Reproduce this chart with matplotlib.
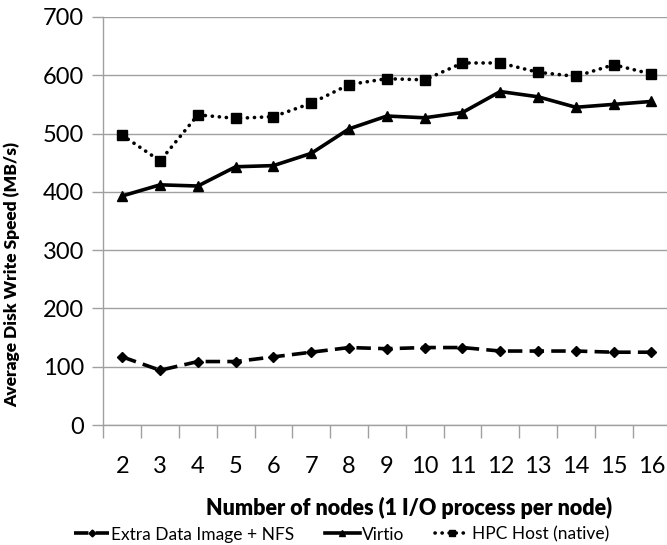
import numpy as np
import matplotlib.pyplot as plt

plt.rcParams['font.family'] = ['Lato', 'DejaVu Sans']

nodes = [str(n) for n in range(2, 17)]
extra_nfs = [117, 94, 109, 109, 117, 125, 133, 131, 133, 133, 127, 127, 127, 125, 125]
virtio = [393, 412, 410, 443, 445, 466, 508, 530, 527, 536, 572, 563, 545, 550, 555]
hpc_host = [497, 453, 532, 526, 529, 552, 584, 594, 592, 621, 621, 605, 598, 618, 602]

fig = plt.figure(figsize=(6.67, 5.45), dpi=100)
ax = fig.add_axes([0.155, 0.22, 0.85, 0.749])

x = np.arange(len(nodes))
ax.plot(x, extra_nfs, color='black', lw=2.6, ls=(0, (4, 2)), marker='D', ms=5,
        label='Extra Data Image + NFS')
ax.plot(x, virtio, color='black', lw=2.6, ls='-', marker='^', ms=7, label='Virtio')
ax.plot(x, hpc_host, color='black', lw=2.6, ls=(0, (0.05, 1.9)), marker='s', ms=7,
        dash_capstyle='round', label='HPC Host (native)')

ax.set_xlim(-0.5, len(nodes) - 0.5)
ax.set_ylim(0, 700)
ax.set_yticks(range(0, 701, 100))
ax.set_xticks(x)
ax.set_xticklabels(nodes)
ax.set_xticks(np.arange(-0.5, len(nodes), 1.0), minor=True)
ax.tick_params(axis='x', which='major', length=0, pad=22, labelsize=17)
ax.tick_params(axis='x', which='minor', length=9, color='#a0a0a0', width=1)
ax.tick_params(axis='y', length=8, color='#a0a0a0', width=1, labelsize=17, pad=6)

ax.grid(axis='y', color='#a0a0a0', lw=1)
ax.set_axisbelow(True)
for s in ['top', 'right']:
    ax.spines[s].set_visible(False)
for s in ['left', 'bottom']:
    ax.spines[s].set_color('#a0a0a0')
    ax.spines[s].set_linewidth(1)

ax.set_xlabel('Number of nodes (1 I/O process per node)', fontsize=15.5, fontweight='heavy')
ax.xaxis.set_label_coords(0.54, -0.176)
ax.set_ylabel('Average Disk Write Speed (MB/s)', fontsize=12.5, fontweight='heavy')
ax.yaxis.set_label_coords(-0.147, 0.37)

ax.legend(loc='center', bbox_to_anchor=(0.42, -0.268), ncol=3, frameon=False,
          fontsize=12.5, handlelength=2.0, handletextpad=0.1, columnspacing=1.8, markerscale=0.7)

fig.savefig('out.png', dpi=100)
